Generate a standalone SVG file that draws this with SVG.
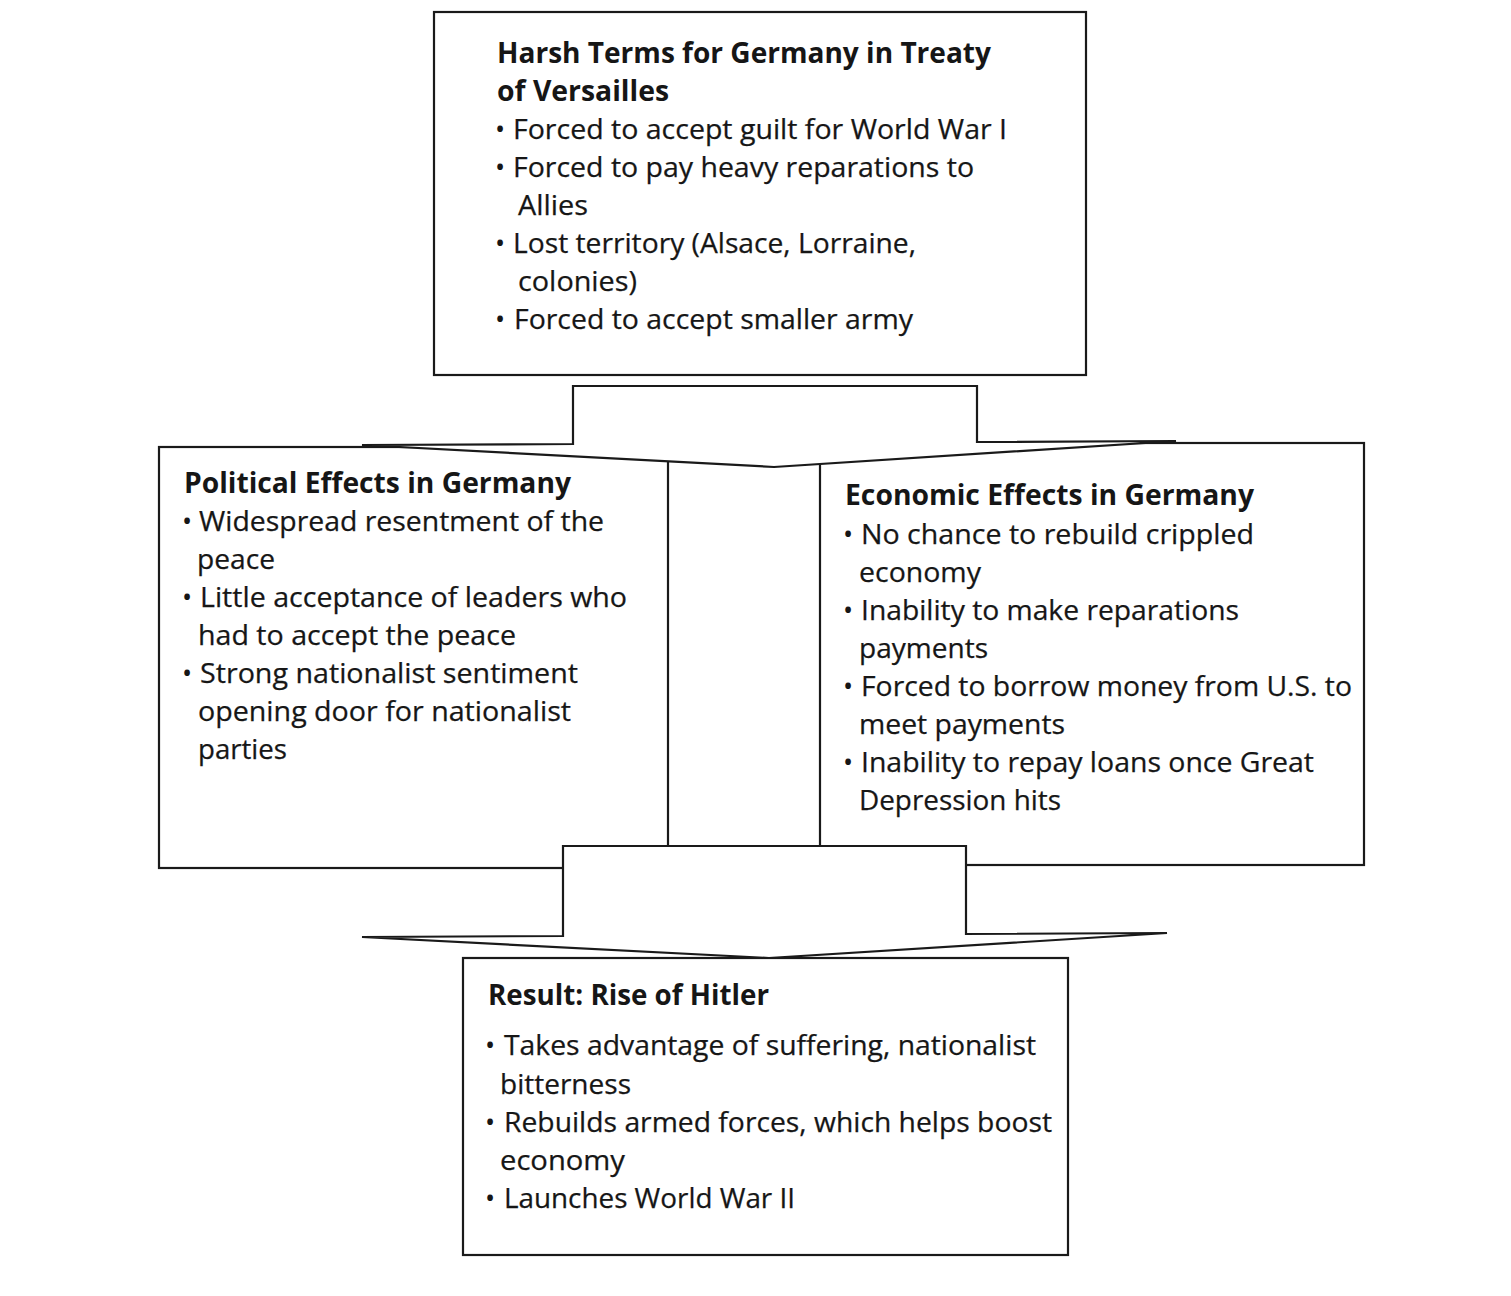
<svg xmlns="http://www.w3.org/2000/svg" width="1511" height="1296" viewBox="0 0 1511 1296">
  <style>
    .box { fill: #ffffff; stroke: #1a1a1a; stroke-width: 2.2; }
    .arrow { fill: #ffffff; stroke: #1a1a1a; stroke-width: 2.2; stroke-linejoin: miter; }
    .t { font-family: "Open Sans", "Noto Sans", "Liberation Sans", sans-serif; font-size: 28px; fill: #161616; stroke: #161616; stroke-width: 0.25; }
    .h { font-weight: bold; stroke-width: 0; }
    .b { font-family: "Open Sans", "Noto Sans", "Liberation Sans", sans-serif; font-size: 27px; fill: #161616; }
  </style>
  <rect x="0" y="0" width="1511" height="1296" fill="#ffffff"/>

  <!-- Treaty terms -->
  <g id="node-treaty">
    <rect class="box" x="434" y="12" width="652" height="363"/>
    <text class="t h" x="497" y="63" textLength="494" lengthAdjust="spacingAndGlyphs">Harsh Terms for Germany in Treaty</text>
    <text class="t h" x="497" y="101" textLength="172" lengthAdjust="spacingAndGlyphs">of Versailles</text>
    <text class="b" x="495" y="139">•</text>
    <text class="t" x="513" y="139" textLength="494" lengthAdjust="spacingAndGlyphs">Forced to accept guilt for World War I</text>
    <text class="b" x="495" y="177">•</text>
    <text class="t" x="513" y="177" textLength="461" lengthAdjust="spacingAndGlyphs">Forced to pay heavy reparations to</text>
    <text class="t" x="518" y="215" textLength="70" lengthAdjust="spacingAndGlyphs">Allies</text>
    <text class="b" x="495" y="253">•</text>
    <text class="t" x="513" y="253" textLength="403" lengthAdjust="spacingAndGlyphs">Lost territory (Alsace, Lorraine,</text>
    <text class="t" x="518" y="291" textLength="119" lengthAdjust="spacingAndGlyphs">colonies)</text>
    <text class="b" x="495" y="329">•</text>
    <text class="t" x="514" y="329" textLength="399" lengthAdjust="spacingAndGlyphs">Forced to accept smaller army</text>
  </g>

  <!-- Political effects -->
  <g id="node-political">
    <rect class="box" x="159" y="447" width="509" height="421"/>
    <text class="t h" x="184" y="493" textLength="387" lengthAdjust="spacingAndGlyphs">Political Effects in Germany</text>
    <text class="b" x="182" y="531">•</text>
    <text class="t" x="199" y="531" textLength="405" lengthAdjust="spacingAndGlyphs">Widespread resentment of the</text>
    <text class="t" x="197" y="569" textLength="78" lengthAdjust="spacingAndGlyphs">peace</text>
    <text class="b" x="182" y="607">•</text>
    <text class="t" x="200" y="607" textLength="427" lengthAdjust="spacingAndGlyphs">Little acceptance of leaders who</text>
    <text class="t" x="198" y="645" textLength="318" lengthAdjust="spacingAndGlyphs">had to accept the peace</text>
    <text class="b" x="182" y="683">•</text>
    <text class="t" x="200" y="683" textLength="378" lengthAdjust="spacingAndGlyphs">Strong nationalist sentiment</text>
    <text class="t" x="198" y="721" textLength="373" lengthAdjust="spacingAndGlyphs">opening door for nationalist</text>
    <text class="t" x="198" y="759" textLength="89" lengthAdjust="spacingAndGlyphs">parties</text>
  </g>

  <!-- Economic effects -->
  <g id="node-economic">
    <rect class="box" x="820" y="443" width="544" height="422"/>
    <text class="t h" x="845" y="505" textLength="409" lengthAdjust="spacingAndGlyphs">Economic Effects in Germany</text>
    <text class="b" x="843" y="544">•</text>
    <text class="t" x="861" y="544" textLength="393" lengthAdjust="spacingAndGlyphs">No chance to rebuild crippled</text>
    <text class="t" x="859" y="582" textLength="122" lengthAdjust="spacingAndGlyphs">economy</text>
    <text class="b" x="843" y="620">•</text>
    <text class="t" x="861" y="620" textLength="378" lengthAdjust="spacingAndGlyphs">Inability to make reparations</text>
    <text class="t" x="859" y="658" textLength="129" lengthAdjust="spacingAndGlyphs">payments</text>
    <text class="b" x="843" y="696">•</text>
    <text class="t" x="861" y="696" textLength="491" lengthAdjust="spacingAndGlyphs">Forced to borrow money from U.S. to</text>
    <text class="t" x="859" y="734" textLength="206" lengthAdjust="spacingAndGlyphs">meet payments</text>
    <text class="b" x="843" y="772">•</text>
    <text class="t" x="861" y="772" textLength="453" lengthAdjust="spacingAndGlyphs">Inability to repay loans once Great</text>
    <text class="t" x="859" y="810" textLength="202" lengthAdjust="spacingAndGlyphs">Depression hits</text>
  </g>

  <!-- Result -->
  <g id="node-result">
    <rect class="box" x="463" y="958" width="605" height="297"/>
    <text class="t h" x="488" y="1005" textLength="281" lengthAdjust="spacingAndGlyphs">Result: Rise of Hitler</text>
    <text class="b" x="485" y="1055">•</text>
    <text class="t" x="504" y="1055" textLength="532" lengthAdjust="spacingAndGlyphs">Takes advantage of suffering, nationalist</text>
    <text class="t" x="500" y="1094" textLength="131" lengthAdjust="spacingAndGlyphs">bitterness</text>
    <text class="b" x="485" y="1132">•</text>
    <text class="t" x="504" y="1132" textLength="548" lengthAdjust="spacingAndGlyphs">Rebuilds armed forces, which helps boost</text>
    <text class="t" x="500" y="1170" textLength="125" lengthAdjust="spacingAndGlyphs">economy</text>
    <text class="b" x="485" y="1208">•</text>
    <text class="t" x="504" y="1208" textLength="291" lengthAdjust="spacingAndGlyphs">Launches World War II</text>
  </g>

  <!-- Block arrows, drawn over the box edges they cross -->
  <g id="connectors">
    <polygon class="arrow" points="573,386 977,386 977,442 1176,441 774,467 362,445 573,444"/>
    <polygon class="arrow" points="563,846 966,846 966,934 1167,933 769,958 362,937 563,936"/>
  </g>
</svg>
